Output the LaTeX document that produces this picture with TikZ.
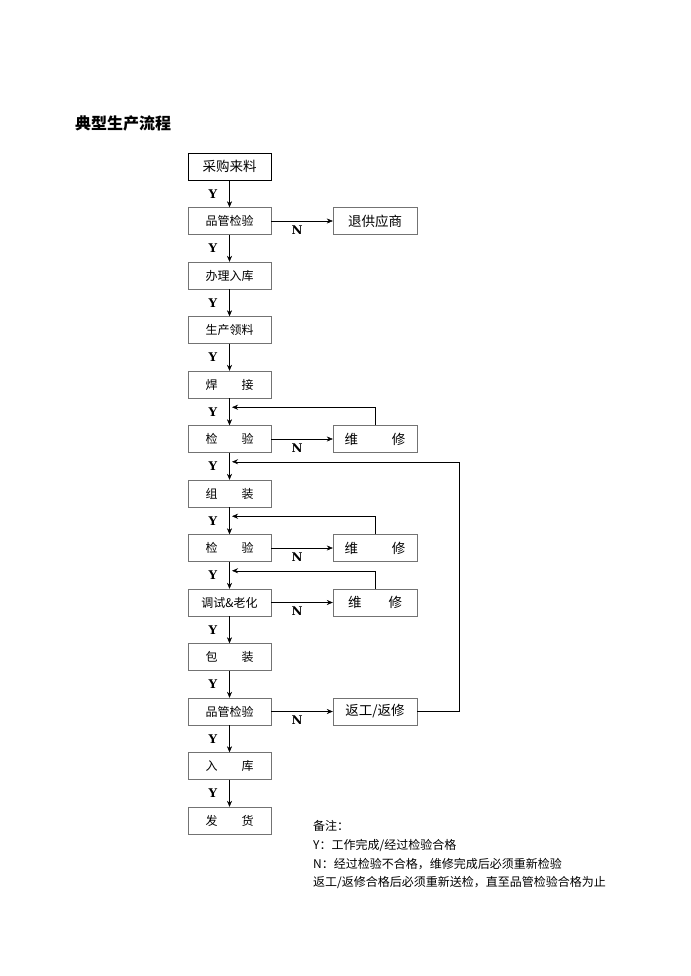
\documentclass[tikz,border=0pt]{standalone}
\usepackage{fontspec}
\newfontfamily\cjk{Noto Sans CJK SC}
\newfontfamily\yn{DejaVu Serif}
\usetikzlibrary{calc}
\usetikzlibrary{arrows.meta}

\begin{document}
\begin{tikzpicture}[>={Stealth[length=6pt,width=5pt]},x=1pt,y=-1pt,
    box/.style={draw=black!55,minimum width=83pt,minimum height=27pt,inner sep=0pt,font=\cjk\fontsize{12}{14}\selectfont},
    sidebox/.style={box,minimum width=84pt,font=\cjk\fontsize{13.5}{15}\selectfont},
    yes/.style={font=\yn\bfseries\fontsize{12}{14}\selectfont},
    note/.style={anchor=west,inner sep=0pt,font=\cjk\fontsize{12}{14}\selectfont}]
    \useasboundingbox (0,0) rectangle (690,976);

    \node[anchor=west,inner sep=0pt,font=\cjk\bfseries\fontsize{16}{18}\selectfont] (title) at (75,123) {典型生产流程};

    % main column
    \node[box,draw=black,thick,font=\cjk\fontsize{13.5}{15}\selectfont] (m0) at (229.5,166.5) {采购来料};
    \foreach \i/\t in {1/品管检验,2/办理入库,3/生产领料,4/{焊\hspace{2em}接},5/{检\hspace{2em}验},6/{组\hspace{2em}装},
            7/{检\hspace{2em}验},8/调试\&老化,9/{包\hspace{2em}装},10/品管检验,11/{入\hspace{2em}库},12/{发\hspace{2em}货}}
        \node[box] (m\i) at (229.5,166.5+54.5*\i) {\t};
    \foreach \i [evaluate=\i as \j using int(\i+1)] in {0,...,11}{
        \draw[->] (m\i.south) -- (m\j.north);
        \node[yes] at ($(m\i.south)!0.5!(m\j.north)+(-16.5,0)$) {Y};
    }

    % side boxes
    \node[sidebox] (r1) at (375,221) {退供应商};
    \node[sidebox] (r5) at (375,439) {维\hspace{2.5em}修};
    \node[sidebox] (r7) at (375,548) {维\hspace{2.5em}修};
    \node[sidebox] (r8) at (375,602.5) {维\hspace{2em}修};
    \node[sidebox] (r10) at (375,711.5) {返工/返修};
    \foreach \i in {1,5,7,8,10}{
        \draw[->] (m\i.east) -- (r\i.west);
        \node[yes] at ($(m\i.east)+(26,9)$) {N};
    }

    % repair loops
    \coordinate (b5) at ($(m4.south)!0.5!(m5.north)+(2.5,-4.5)$);
    \coordinate (b7) at ($(m6.south)!0.5!(m7.north)+(2.5,-4.5)$);
    \coordinate (b8) at ($(m7.south)!0.5!(m8.north)+(2.5,-4.5)$);
    \coordinate (b6) at ($(m5.south)!0.5!(m6.north)+(2.5,-4.5)$);
    \draw[->] (r5.north) |- (b5);
    \draw[->] (r7.north) |- (b7);
    \draw[->] (r8.north) |- (b8);
    \draw[->] (r10.east) -- ++(42,0) |- (b6);

    % notes
    \node[note] (n0) at (313,826) {备注：};
    \node[note] (n1) at (313,845) {Y：工作完成/经过检验合格};
    \node[note] (n2) at (313,864) {N：经过检验不合格，维修完成后必须重新检验};
    \node[note] (n3) at (313,882) {返工/返修合格后必须重新送检，直至品管检验合格为止};
\end{tikzpicture}
\end{document}
